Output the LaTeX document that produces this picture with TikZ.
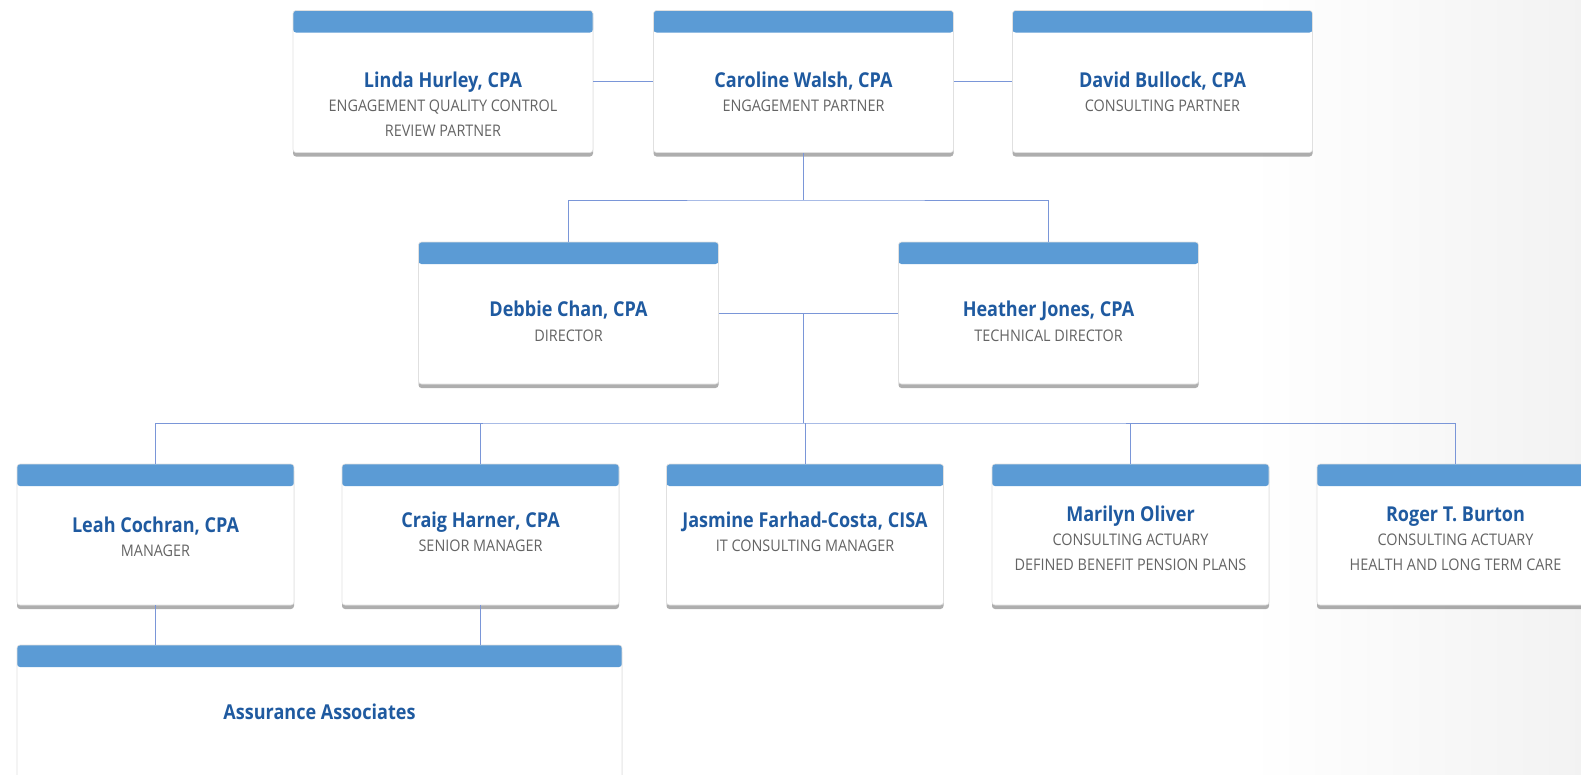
\documentclass[tikz,border=0pt]{standalone}
\usepackage{fontspec}
\setmainfont{Open Sans}
\newfontfamily\namefont[FakeStretch=0.88]{Open Sans}
\newfontfamily\rolefont[FakeStretch=0.9]{Open Sans}
\usetikzlibrary{positioning,shadows}
\definecolor{hdrblue}{RGB}{91,155,213}
\definecolor{nameblue}{RGB}{31,90,160}
\definecolor{rolegray}{RGB}{100,100,100}
\definecolor{linkblue}{RGB}{122,150,216}
\tikzset{
  card/.style={fill=white,draw=black!12,line width=0.6pt,rounded corners=3pt,
    drop shadow={opacity=0.45,shadow xshift=0pt,shadow yshift=-4pt,fill=black!70},
    path picture={
      \fill[hdrblue] (path picture bounding box.north west)
        rectangle ([yshift=-22pt]path picture bounding box.north east);}},
  wide/.style={card,minimum width=300pt,minimum height=142pt},
  narrow/.style={card,minimum width=277pt,minimum height=141pt},
  who/.style={font=\namefont\bfseries\fontsize{20.5}{24}\selectfont,text=nameblue,
    inner sep=0pt,text height=15pt,text depth=4pt},
  role/.style={font=\rolefont\fontsize{16}{25}\selectfont,text=rolegray,
    inner sep=0pt,align=center},
  link/.style={draw=linkblue,line width=1pt}
}
\begin{document}
\begin{tikzpicture}[x=1pt,y=-1pt]
  \clip (0,0) rectangle (1581,774);
  \shade[left color=white,right color=black!5] (1250,0) rectangle (1581,774);
  % partners
  \node[wide] (linda) at (443,81.5) {};
  \node[wide] (caroline) at (803.5,81.5) {};
  \node[wide] (david) at (1162.5,81.5) {};
  % directors
  \node[wide] (debbie) at (568.5,313) {};
  \node[wide] (heather) at (1048.5,313) {};
  % managers
  \node[narrow] (leah) at (155.5,534.5) {};
  \node[narrow] (craig) at (480.5,534.5) {};
  \node[narrow] (jasmine) at (805,534.5) {};
  \node[narrow] (marilyn) at (1130.5,534.5) {};
  \node[narrow] (roger) at (1455.5,534.5) {};
  \node[card,minimum width=605pt,minimum height=145pt] (assoc) at (319.5,717.5) {};
  % connectors
  \coordinate (split1) at (803.5,200);
  \coordinate (split2) at (803.5,423);
  \draw[link] (linda) -- (caroline);
  \draw[link] (caroline) -- (david);
  \draw[link] (caroline.south) -- (split1);
  \draw[link] (debbie.north) |- (split1) -| (heather.north);
  \draw[link] (debbie) -- (heather);
  \draw[link] (split1 |- debbie.east) -- (split2);
  \draw[link] (leah.north) |- (split2) -| (roger.north);
  \draw[link] (craig.north) -- (craig.north |- split2);
  \draw[link] (jasmine.north) -- (jasmine.north |- split2);
  \draw[link] (marilyn.north) -- (marilyn.north |- split2);
  \draw[link] (leah.south) -- (leah.south |- assoc.north);
  \draw[link] (craig.south) -- (craig.south |- assoc.north);
  % names and roles
  \node[who] (linda-n) at (443,82) {Linda Hurley, CPA};
  \node[role,below=8pt of linda-n] (linda-r) {ENGAGEMENT QUALITY CONTROL\\REVIEW PARTNER};
  \node[who] (caroline-n) at (803.5,82) {Caroline Walsh,\ CPA};
  \node[role,below=8pt of caroline-n] (caroline-r) {ENGAGEMENT PARTNER};
  \node[who] (david-n) at (1162.5,82) {David Bullock, CPA};
  \node[role,below=8pt of david-n] (david-r) {CONSULTING PARTNER};
  \node[who] (debbie-n) at (568.5,311) {Debbie Chan, CPA};
  \node[role,below=9pt of debbie-n] (debbie-r) {DIRECTOR};
  \node[who] (heather-n) at (1048.5,311) {Heather Jones, CPA};
  \node[role,below=9pt of heather-n] (heather-r) {TECHNICAL DIRECTOR};
  \node[who] (leah-n) at (155.5,527) {Leah Cochran, CPA};
  \node[role,below=8pt of leah-n] (leah-r) {MANAGER};
  \node[who] (craig-n) at (480.5,522) {Craig Harner, CPA};
  \node[role,below=8pt of craig-n] (craig-r) {SENIOR MANAGER};
  \node[who] (jasmine-n) at (805,522) {Jasmine Farhad-Costa,\ CISA};
  \node[role,below=8pt of jasmine-n] (jasmine-r) {IT CONSULTING MANAGER};
  \node[who] (marilyn-n) at (1130.5,516) {Marilyn Oliver};
  \node[role,below=8pt of marilyn-n] (marilyn-r) {CONSULTING ACTUARY\\DEFINED BENEFIT PENSION PLANS};
  \node[who] (roger-n) at (1455.5,516) {Roger T. Burton};
  \node[role,below=8pt of roger-n] (roger-r) {CONSULTING ACTUARY\\HEALTH AND LONG TERM CARE};
  \node[who] (assoc-n) at (319.5,714) {Assurance Associates};
\end{tikzpicture}
\end{document}
